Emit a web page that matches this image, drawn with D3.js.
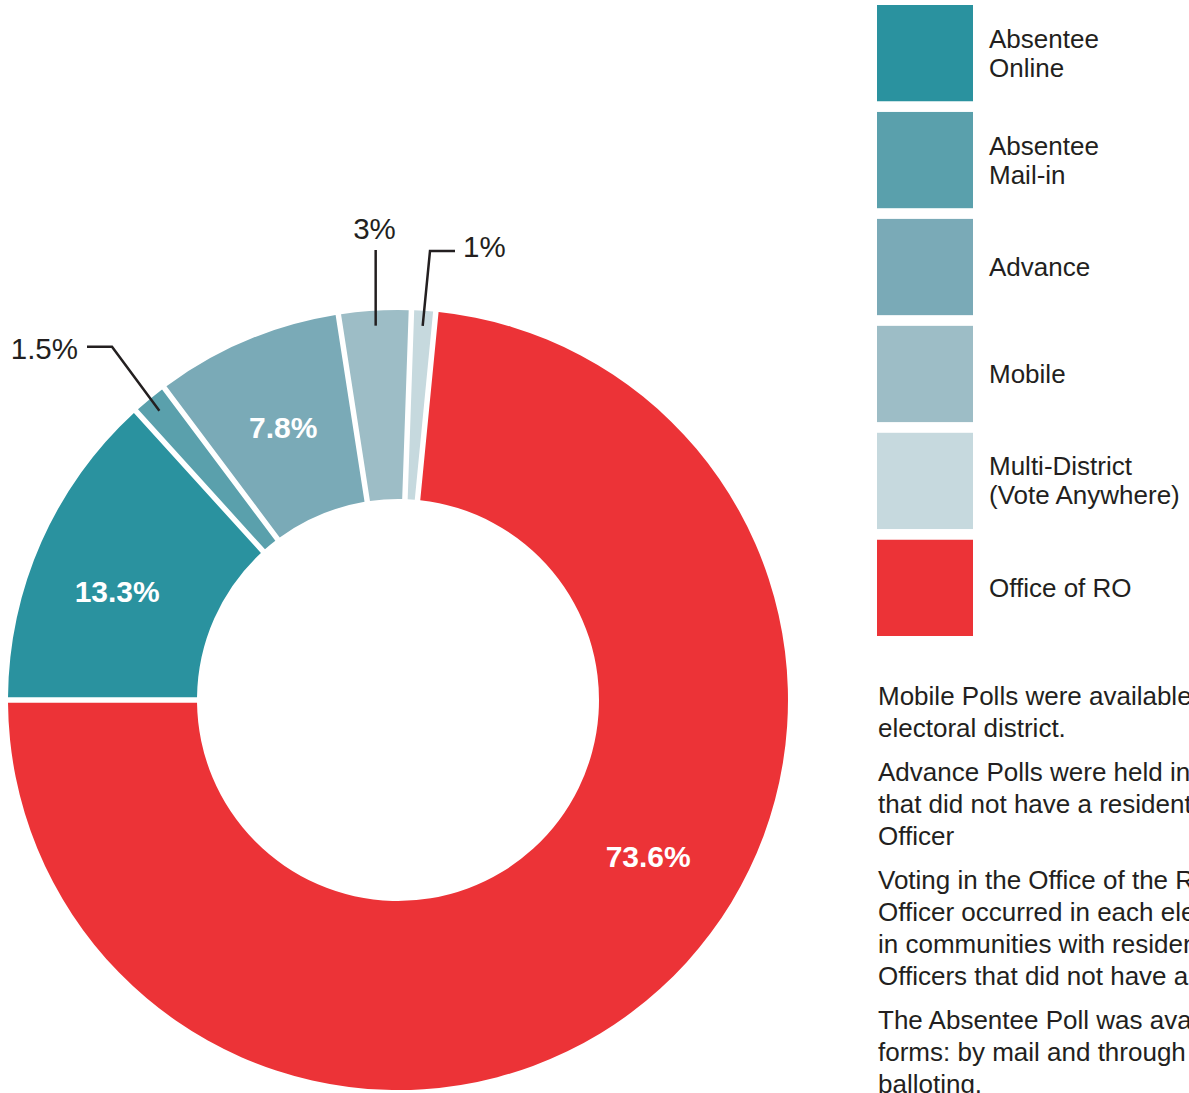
<!DOCTYPE html>
<html>
<head>
<meta charset="utf-8">
<script src="https://cdn.jsdelivr.net/npm/d3@7"></script>
<style>
  html, body { margin: 0; padding: 0; background: #fff; }
  svg { display: block; overflow: hidden; }
  text { font-family: "Liberation Sans", Arial, Helvetica, sans-serif; }
</style>
</head>
<body>
<div id="chart"></div>
<script>
// ---- data ----
const categories = ["Absentee Online", "Absentee Mail-in", "Advance", "Mobile", "Multi-District (Vote Anywhere)", "Office of RO"];
const values = [13.3, 1.5, 7.8, 3, 1, 73.6];
const valueLabels = ["13.3%", "1.5%", "7.8%", "3%", "1%", "73.6%"];
const colors = ["#2a929f", "#5aa0ac", "#7aaab7", "#9dbdc6", "#c6d9de", "#ec3337"];
const legendLines = [["Absentee", "Online"], ["Absentee", "Mail-in"], ["Advance"], ["Mobile"], ["Multi-District", "(Vote Anywhere)"], ["Office of RO"]];
const notes = [
  ["Mobile Polls were available in each", "electoral district."],
  ["Advance Polls were held in communities", "that did not have a resident Returning", "Officer"],
  ["Voting in the Office of the Returning", "Officer occurred in each electoral district", "in communities with resident Returning", "Officers that did not have a Mobile Poll."],
  ["The Absentee Poll was available in two", "forms: by mail and through online", "balloting."]
];

// ---- layout ----
const W = 1189, H = 1093;
const cx = 398, cy = 700, R = 390, r0 = 201;
const textColor = "#231f20";

const svg = d3.select("#chart").append("svg").attr("width", W).attr("height", H);

const rows = categories.map((c, i) => ({ cat: c, value: values[i], label: valueLabels[i], color: colors[i], legend: legendLines[i] }));

const pie = d3.pie().sort(null).value(d => d.value)
  .startAngle(-Math.PI / 2).endAngle(3 * Math.PI / 2);
const arcs = pie(rows);

const gap = 5.5;
const arc = d3.arc().innerRadius(r0).outerRadius(R).padRadius(R).padAngle(gap / R);

const g = svg.append("g").attr("transform", `translate(${cx},${cy})`);
g.selectAll("path.slice").data(arcs).join("path")
  .attr("class", "slice")
  .attr("d", arc)
  .attr("fill", d => d.data.color);

const deg = Math.PI / 180;
function polar(angle, rad) { return [Math.sin(angle) * rad, -Math.cos(angle) * rad]; }
function mid(d) { return (d.startAngle + d.endAngle) / 2; }

// inside labels
const inside = {
  "Absentee Online": { da: -2.8 * deg, rad: 301 },
  "Advance": { da: 0, rad: 296 },
  "Office of RO": { angle: 122 * deg, rad: 295 }
};
arcs.filter(d => inside[d.data.cat]).forEach(d => {
  const o = inside[d.data.cat];
  const a = o.angle !== undefined ? o.angle : mid(d) + o.da;
  const [x, y] = polar(a, o.rad);
  g.append("text")
    .attr("x", x).attr("y", y + 10.5)
    .attr("text-anchor", "middle")
    .attr("font-size", 30).attr("font-weight", "bold")
    .attr("fill", "#fff")
    .text(d.data.label);
});

// outside labels with leader lines
const outside = {
  "Absentee Mail-in": { pts: (p) => [p, [112 - cx, p[1] - (413 - 349)], [87 - cx, p[1] - (413 - 349)]], tx: 78 - cx, ty: 359 - cy, anchor: "end" },
  "Mobile": { pts: (p) => [p, [p[0], 250 - cy]], tx: 374.5 - cx, ty: 239 - cy, anchor: "middle" },
  "Multi-District (Vote Anywhere)": { pts: (p) => [p, [430 - cx, 251 - cy], [455 - cx, 251 - cy]], tx: 463 - cx, ty: 257 - cy, anchor: "start" }
};
const line = d3.line();
arcs.filter(d => outside[d.data.cat]).forEach(d => {
  const o = outside[d.data.cat];
  const p = polar(mid(d), 375);
  g.append("path")
    .attr("d", line(o.pts(p)))
    .attr("fill", "none")
    .attr("stroke", textColor)
    .attr("stroke-width", 2.5);
  g.append("text")
    .attr("x", o.tx).attr("y", o.ty)
    .attr("text-anchor", o.anchor)
    .attr("font-size", 29.5)
    .attr("fill", textColor)
    .text(d.data.label);
});

// legend
const ly = d3.scaleBand().domain(categories).range([5, 636]).paddingInner(0.1).paddingOuter(0);
const lg = svg.append("g");
const items = lg.selectAll("g.item").data(rows).join("g").attr("class", "item");
items.append("rect")
  .attr("x", 877).attr("y", d => ly(d.cat))
  .attr("width", 96).attr("height", ly.bandwidth())
  .attr("fill", d => d.color);
items.each(function (d) {
  const c = ly(d.cat) + ly.bandwidth() / 2;
  const n = d.legend.length;
  d3.select(this).selectAll("text").data(d.legend).join("text")
    .attr("x", 989)
    .attr("y", (t, j) => c + 9 + (j - (n - 1) / 2) * 29)
    .attr("font-size", 26)
    .attr("fill", textColor)
    .text(t => t);
});

// notes
let y = 705;
const ng = svg.append("g");
notes.forEach(par => {
  par.forEach(t => {
    ng.append("text").attr("x", 878).attr("y", y)
      .attr("font-size", 26).attr("fill", textColor).text(t);
    y += 32;
  });
  y += 12;
});
</script>
</body>
</html>
